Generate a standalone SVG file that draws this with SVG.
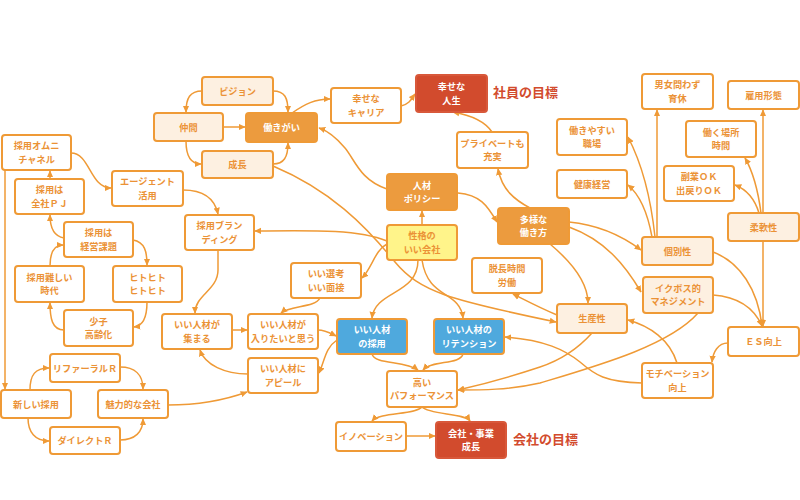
<svg xmlns="http://www.w3.org/2000/svg" width="800" height="500" viewBox="0 0 800 500">
<defs>
<marker id="a" viewBox="0 0 10 10" refX="9" refY="5" markerWidth="7" markerHeight="7" markerUnits="userSpaceOnUse" orient="auto"><path d="M0,0.5 L10,5 L0,9.5 z" fill="#ef9a36"/></marker>
<style>
rect{stroke:#ef9a36;stroke-width:2}
.n{fill:#ffffff}
.l{fill:#fdf0e1}
.o{fill:#ec9b3e}
.r{fill:#d24b2d;stroke:#d8583a}
.b{fill:#4fa9dd}
.y{fill:#fff48a}
text{font-family:"Noto Sans CJK JP","Noto Sans",sans-serif;font-size:9.2px;font-weight:bold;text-anchor:middle}
.t{fill:#eb9236}
.w{fill:#ffffff}
.g{font-size:13px;fill:#d24b2d;text-anchor:start;font-weight:bold}
#connectors path{fill:none;stroke:#ef9a36;stroke-width:1.5;marker-end:url(#a)}
</style>
</defs>
<rect x="0" y="0" width="800" height="500" fill="#ffffff" style="stroke:none"/>
<g id="connectors">
<path d="M202,91 C190,91 186,98 186,112"/>
<path d="M273,91 C285,91 288,98 288,112"/>
<path d="M223,127 L245,127"/>
<path d="M186,141 C186,155 190,164 201,164"/>
<path d="M273,164 C284,164 288,157 288,143"/>
<path d="M292,113 C305,104 315,99 330,99"/>
<path d="M401,106 C410,104 412,98 415,94"/>
<path d="M387,189 C360,180 355,160 345,148 C335,136 328,131 319,128"/>
<path d="M492,132 C484,120 470,115 453,112"/>
<path d="M530,208 C515,200 502,190 498,169"/>
<path d="M458,193 C480,195 487,205 497,222"/>
<path d="M422,225 L422,211"/>
<path d="M387,241 C360,230 320,230 255,231"/>
<path d="M387,244 C375,250 372,268 362,278"/>
<path d="M418,260 C418,295 375,290 372,318"/>
<path d="M422,260 C428,300 460,290 463,318"/>
<path d="M273,166 C330,190 365,225 395,262 C420,292 450,300 556,322"/>
<path d="M557,315 C540,308 525,300 513,294"/>
<path d="M550,244 C575,265 588,285 588,303"/>
<path d="M569,222 C600,225 625,238 641,250"/>
<path d="M569,227 C605,240 625,265 641,292"/>
<path d="M657,237 L657,110"/>
<path d="M655,237 C650,190 640,160 628,137"/>
<path d="M652,237 C648,215 640,195 628,185"/>
<path d="M763,213 L763,110"/>
<path d="M761,213 C758,190 752,170 745,158"/>
<path d="M759,213 C755,200 748,190 735,185"/>
<path d="M763,241 L763,326"/>
<path d="M713,252 C740,262 758,290 762,326"/>
<path d="M713,295 C740,297 755,310 762,326"/>
<path d="M728,343 C718,343 713,352 712,362"/>
<path d="M677,363 C670,340 650,326 628,320"/>
<path d="M642,383 C605,382 595,375 580,362 C565,350 545,340 505,337"/>
<path d="M592,333 C575,352 555,362 540,367 C510,377 480,385 458,390"/>
<path d="M698,313 C670,345 600,365 540,383 C510,390 480,390 458,390"/>
<path d="M372,354 C375,365 405,360 418,370"/>
<path d="M463,354 C460,365 432,360 423,370"/>
<path d="M422,407 C415,415 380,412 372,421"/>
<path d="M422,407 C430,415 465,413 470,421"/>
<path d="M406,436 L435,436"/>
<path d="M71,153 C90,153 90,188 111,188"/>
<path d="M183,190 C205,190 215,200 218,214"/>
<path d="M50,179 L50,171"/>
<path d="M64,238 C52,236 50,225 50,215"/>
<path d="M50,266 C50,252 55,245 63,245"/>
<path d="M133,240 C145,242 147,252 147,265"/>
<path d="M147,302 C147,318 143,326 134,327"/>
<path d="M64,330 C52,330 50,318 50,303"/>
<path d="M5,170 L5,389"/>
<path d="M30,390 C30,375 35,368 49,368"/>
<path d="M28,418 C28,432 35,441 49,441"/>
<path d="M120,367 C135,367 143,375 143,389"/>
<path d="M120,440 C135,440 143,432 143,419"/>
<path d="M168,405 C200,405 225,400 247,392"/>
<path d="M218,250 L218,270 C218,290 195,295 195,313"/>
<path d="M232,330 L247,330"/>
<path d="M248,374 C225,374 205,365 200,350"/>
<path d="M320,298 C315,308 290,305 281,313"/>
<path d="M318,330 C325,330 330,333 336,336"/>
<path d="M337,340 C325,348 325,360 319,373"/>
</g>
<g id="vision"><rect class="l" x="202" y="77" width="71" height="28" rx="3"/><text class="t" x="237.5" y="94.5">ビジョン</text></g>
<g id="nakama"><rect class="l" x="154" y="113" width="69" height="28" rx="3"/><text class="t" x="188.5" y="130.5">仲間</text></g>
<g id="hatarakigai"><rect class="o" x="246" y="113" width="71" height="29" rx="3"/><text class="w" x="281.5" y="131">働きがい</text></g>
<g id="seicho"><rect class="l" x="202" y="151" width="71" height="27" rx="3"/><text class="t" x="237.5" y="168">成長</text></g>
<g id="career"><rect class="n" x="331" y="88" width="70" height="35" rx="3"/><text class="t" x="366" y="102.3">幸せな</text><text class="t" x="366" y="115.7">キャリア</text></g>
<g id="jinsei"><rect class="r" x="416" y="75" width="71" height="37" rx="3"/><text class="w" x="451.5" y="90.3">幸せな</text><text class="w" x="451.5" y="103.7">人生</text></g>
<g id="private"><rect class="n" x="457" y="132" width="71" height="36" rx="3"/><text class="t" x="492.5" y="146.8">プライベートも</text><text class="t" x="492.5" y="160.2">充実</text></g>
<g id="policy"><rect class="o" x="387" y="174" width="70" height="36" rx="3"/><text class="w" x="422" y="188.8">人材</text><text class="w" x="422" y="202.2">ポリシー</text></g>
<g id="tayou"><rect class="o" x="498" y="208" width="71" height="36" rx="3"/><text class="w" x="533.5" y="222.8">多様な</text><text class="w" x="533.5" y="236.2">働き方</text></g>
<g id="seikaku"><rect class="y" x="387" y="225" width="70" height="35" rx="3"/><text class="t" x="422" y="239.3">性格の</text><text class="t" x="422" y="252.7">いい会社</text></g>
<g id="omni"><rect class="n" x="2" y="135" width="69" height="35" rx="3"/><text class="t" x="36.5" y="149.3">採用オムニ</text><text class="t" x="36.5" y="162.7">チャネル</text></g>
<g id="zensha"><rect class="n" x="15" y="179" width="69" height="35" rx="3"/><text class="t" x="49.5" y="193.3">採用は</text><text class="t" x="49.5" y="206.7">全社ＰＪ</text></g>
<g id="agent"><rect class="n" x="112" y="171" width="71" height="35" rx="3"/><text class="t" x="147.5" y="185.3">エージェント</text><text class="t" x="147.5" y="198.7">活用</text></g>
<g id="branding"><rect class="n" x="185" y="215" width="69" height="35" rx="3"/><text class="t" x="219.5" y="229.3">採用ブラン</text><text class="t" x="219.5" y="242.7">ディング</text></g>
<g id="keiei"><rect class="n" x="64" y="222" width="69" height="35" rx="3"/><text class="t" x="98.5" y="236.3">採用は</text><text class="t" x="98.5" y="249.7">経営課題</text></g>
<g id="muzukashii"><rect class="n" x="15" y="266" width="69" height="36" rx="3"/><text class="t" x="49.5" y="280.8">採用難しい</text><text class="t" x="49.5" y="294.2">時代</text></g>
<g id="hitohito"><rect class="n" x="113" y="266" width="69" height="36" rx="3"/><text class="t" x="147.5" y="280.8">ヒトヒト</text><text class="t" x="147.5" y="294.2">ヒトヒト</text></g>
<g id="shoushi"><rect class="n" x="64" y="310" width="69" height="36" rx="3"/><text class="t" x="98.5" y="324.8">少子</text><text class="t" x="98.5" y="338.2">高齢化</text></g>
<g id="atsumaru"><rect class="n" x="162" y="314" width="70" height="35" rx="3"/><text class="t" x="197" y="328.3">いい人材が</text><text class="t" x="197" y="341.7">集まる</text></g>
<g id="hairitai"><rect class="n" x="248" y="314" width="70" height="35" rx="3"/><text class="t" x="283" y="328.3">いい人材が</text><text class="t" x="283" y="341.7">入りたいと思う</text></g>
<g id="senkou"><rect class="n" x="291" y="263" width="70" height="35" rx="3"/><text class="t" x="326" y="277.3">いい選考</text><text class="t" x="326" y="290.7">いい面接</text></g>
<g id="appeal"><rect class="n" x="248" y="358" width="70" height="35" rx="3"/><text class="t" x="283" y="372.3">いい人材に</text><text class="t" x="283" y="385.7">アピール</text></g>
<g id="referral"><rect class="n" x="50" y="354" width="70" height="28" rx="3"/><text class="t" x="85" y="371.5">リファーラルＲ</text></g>
<g id="atarashii"><rect class="n" x="1" y="390" width="70" height="28" rx="3"/><text class="t" x="36" y="407.5">新しい採用</text></g>
<g id="miryoku"><rect class="n" x="98" y="390" width="70" height="28" rx="3"/><text class="t" x="133" y="407.5">魅力的な会社</text></g>
<g id="direct"><rect class="n" x="50" y="427" width="70" height="27" rx="3"/><text class="t" x="85" y="444">ダイレクトＲ</text></g>
<g id="ikukyu"><rect class="n" x="642" y="74" width="71" height="35" rx="3"/><text class="t" x="677.5" y="88.3">男女問わず</text><text class="t" x="677.5" y="101.7">育休</text></g>
<g id="koyou"><rect class="n" x="728" y="81" width="71" height="28" rx="3"/><text class="t" x="763.5" y="98.5">雇用形態</text></g>
<g id="shokuba"><rect class="n" x="557" y="119" width="70" height="36" rx="3"/><text class="t" x="592" y="133.8">働きやすい</text><text class="t" x="592" y="147.2">職場</text></g>
<g id="basho"><rect class="n" x="686" y="121" width="70" height="36" rx="3"/><text class="t" x="721" y="135.8">働く場所</text><text class="t" x="721" y="149.2">時間</text></g>
<g id="kenkou"><rect class="n" x="557" y="170" width="70" height="28" rx="3"/><text class="t" x="592" y="187.5">健康経営</text></g>
<g id="fukugyou"><rect class="n" x="664" y="166" width="70" height="35" rx="3"/><text class="t" x="699" y="180.3">副業ＯＫ</text><text class="t" x="699" y="193.7">出戻りＯＫ</text></g>
<g id="juunan"><rect class="l" x="728" y="213" width="71" height="28" rx="3"/><text class="t" x="763.5" y="230.5">柔軟性</text></g>
<g id="kobetsu"><rect class="l" x="642" y="237" width="71" height="28" rx="3"/><text class="t" x="677.5" y="254.5">個別性</text></g>
<g id="ikuboss"><rect class="l" x="643" y="277" width="70" height="36" rx="3"/><text class="t" x="678" y="291.8">イクボス的</text><text class="t" x="678" y="305.2">マネジメント</text></g>
<g id="seisansei"><rect class="l" x="557" y="304" width="70" height="29" rx="3"/><text class="t" x="592" y="322">生産性</text></g>
<g id="es"><rect class="n" x="728" y="327" width="71" height="29" rx="3"/><text class="t" x="763.5" y="345">ＥＳ向上</text></g>
<g id="motivation"><rect class="n" x="642" y="363" width="71" height="35" rx="3"/><text class="t" x="677.5" y="377.3">モチベーション</text><text class="t" x="677.5" y="390.7">向上</text></g>
<g id="datsu"><rect class="n" x="472" y="258" width="70" height="35" rx="3"/><text class="t" x="507" y="272.3">脱長時間</text><text class="t" x="507" y="285.7">労働</text></g>
<g id="saiyou"><rect class="b" x="337" y="319" width="70" height="35" rx="3"/><text class="w" x="372" y="333.3">いい人材</text><text class="w" x="372" y="346.7">の採用</text></g>
<g id="retention"><rect class="b" x="434" y="319" width="70" height="35" rx="3"/><text class="w" x="469" y="333.3">いい人材の</text><text class="w" x="469" y="346.7">リテンション</text></g>
<g id="performance"><rect class="n" x="387" y="371" width="70" height="36" rx="3"/><text class="t" x="422" y="385.8">高い</text><text class="t" x="422" y="399.2">パフォーマンス</text></g>
<g id="innovation"><rect class="n" x="336" y="422" width="70" height="29" rx="3"/><text class="t" x="371" y="440">イノベーション</text></g>
<g id="growth"><rect class="r" x="436" y="422" width="70" height="36" rx="3"/><text class="w" x="471" y="436.8">会社・事業</text><text class="w" x="471" y="450.2">成長</text></g>
<g id="labels"><text class="g" x="493" y="97">社員の目標</text><text class="g" x="513" y="444">会社の目標</text></g>
</svg>
